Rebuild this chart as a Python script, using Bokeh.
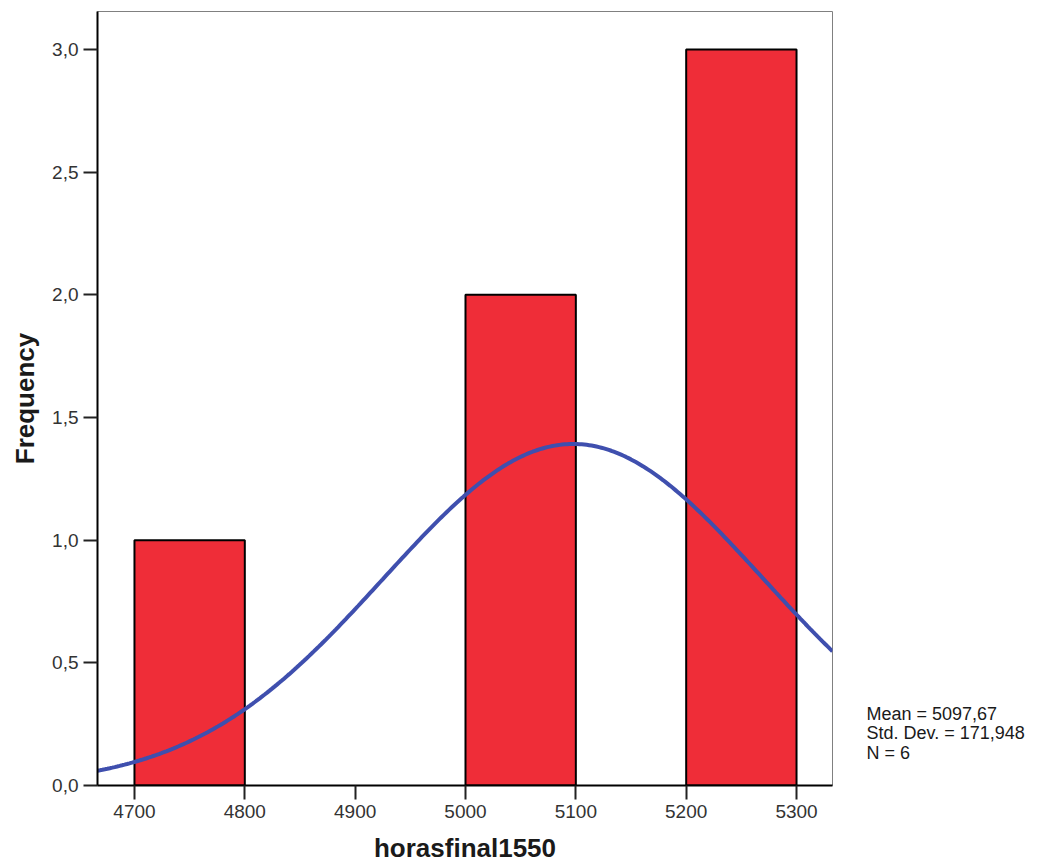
import numpy as np
from bokeh.plotting import figure
from bokeh.layouts import row
from bokeh.models import FixedTicker, Range1d
from bokeh.core.properties import value
from bokeh.embed import file_html
from bokeh.resources import INLINE

bin_left = [4700, 5000, 5200]
bin_right = [4800, 5100, 5300]
counts = [1, 2, 3]

x_ticks = [4700, 4800, 4900, 5000, 5100, 5200, 5300]
y_ticks = [0.0, 0.5, 1.0, 1.5, 2.0, 2.5, 3.0]
y_tick_labels = ["0,0", "0,5", "1,0", "1,5", "2,0", "2,5", "3,0"]

mean = 5097.67
std_dev = 171.948
n_obs = 6
bin_width = 100
stats_lines = ["Mean = 5097,67", "Std. Dev. = 171,948", "N = 6"]

x0, x1 = 4666.5, 5332.6
y0, y1 = 0.0, 3.155

p = figure(frame_width=735, frame_height=774, output_backend="svg", toolbar_location=None,
           x_range=Range1d(x0, x1), y_range=Range1d(y0, y1),
           min_border_left=97, min_border_top=11, min_border_right=2, min_border_bottom=81)
p.background_fill_color = "white"
p.border_fill_color = "white"
p.outline_line_color = "#808080"
p.outline_line_width = 1
p.xgrid.visible = False
p.ygrid.visible = False

p.quad(left=bin_left, right=bin_right, bottom=0, top=counts,
       fill_color="#EF2D38", line_color="black", line_width=2)

xs = np.linspace(x0, x1, 300)
ys = n_obs * bin_width / (std_dev * np.sqrt(2 * np.pi)) * np.exp(-0.5 * ((xs - mean) / std_dev) ** 2)
p.line(xs, ys, line_color="#3F4FAE", line_width=4)

for ax in (p.xaxis[0], p.yaxis[0]):
    ax.axis_line_color = "black"
    ax.axis_line_width = 2
    ax.major_tick_line_color = "#222222"
    ax.major_tick_line_width = 2
    ax.major_tick_out = 14
    ax.major_tick_in = 0
    ax.minor_tick_line_color = None
    ax.major_label_text_font = "Liberation Sans"
    ax.major_label_text_font_size = "19px"
    ax.major_label_text_color = "#333333"
    ax.axis_label_text_font = "Liberation Sans"
    ax.axis_label_text_font_size = "26px"
    ax.axis_label_text_font_style = "bold"
    ax.axis_label_text_color = "#1a1a1a"

p.xaxis.ticker = FixedTicker(ticks=x_ticks)
p.xaxis.major_label_standoff = 5
p.xaxis.axis_label = "horasfinal1550"
p.xaxis.axis_label_standoff = 12

p.yaxis.ticker = FixedTicker(ticks=y_ticks)
p.yaxis.major_label_overrides = {t: l for t, l in zip(y_ticks, y_tick_labels)}
p.yaxis.major_label_standoff = 5
p.yaxis.axis_label = "Frequency"
p.yaxis.axis_label_standoff = 9

# side panel with the statistics text (screen-like coordinates, y from top)
p2 = figure(frame_width=205, frame_height=866, output_backend="svg", toolbar_location=None,
            x_range=Range1d(834, 1039), y_range=Range1d(866, 0),
            x_axis_location=None, y_axis_location=None,
            min_border_left=0, min_border_right=0, min_border_top=0, min_border_bottom=0)
p2.outline_line_color = None
p2.xgrid.visible = False
p2.ygrid.visible = False
p2.background_fill_color = "white"
p2.border_fill_color = "white"
p2.text(x=[866] * len(stats_lines), y=[702, 721, 741], text=stats_lines,
        text_font=value("Liberation Sans"), text_font_size="18px",
        text_color="#1a1a1a", text_baseline="middle", text_align="left")

layout = row(p, p2)
open("out.html", "w").write(file_html(layout, INLINE))
